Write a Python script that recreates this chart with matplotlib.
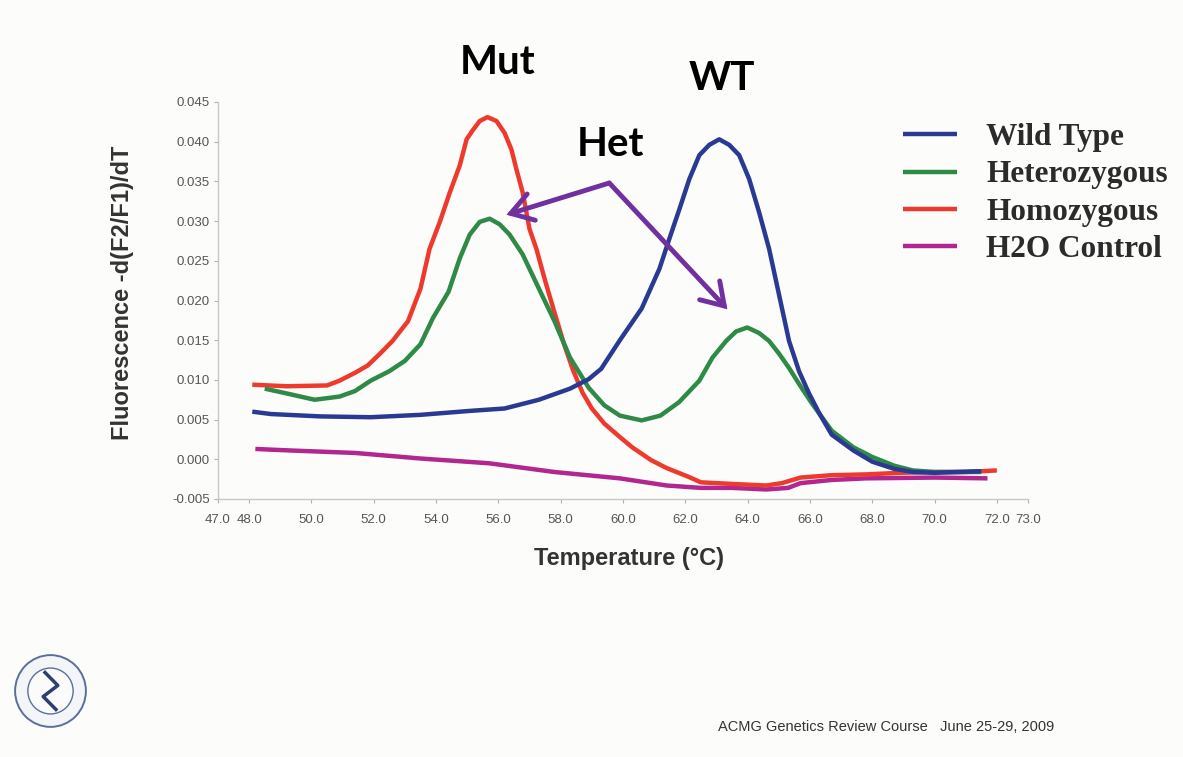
import matplotlib
matplotlib.use("Agg")
import matplotlib.pyplot as plt
from matplotlib.patches import Circle

#********data*****************************************
wt_temp = [48.1, 48.7, 50.3, 51.9, 53.5, 55.1, 56.2, 57.3, 58.3, 58.9, 59.3, 59.9,
           60.6, 61.17, 61.49, 61.81, 62.13, 62.45, 62.77, 63.09, 63.41, 63.73, 64.05,
           64.37, 64.69, 65.01, 65.33, 65.65, 65.97, 66.3, 66.7, 67.4, 68.0, 68.7, 69.3,
           70.0, 71.5]
wt_val = [0.0060, 0.0057, 0.0054, 0.0053, 0.0056, 0.0061, 0.0064, 0.0075, 0.0089, 0.0101,
          0.0114, 0.0150, 0.0190, 0.0240, 0.0278, 0.0315, 0.0353, 0.0383, 0.0396, 0.0403,
          0.0396, 0.0383, 0.0353, 0.0311, 0.0265, 0.0207, 0.0149, 0.0111, 0.0083, 0.0058,
          0.0031, 0.0011, -0.0003, -0.0012, -0.0016, -0.0017, -0.0015]

het_temp = [48.5, 49.2, 50.1, 50.9, 51.4, 51.9, 52.5, 53.0, 53.5, 53.9, 54.4, 54.76,
            55.08, 55.40, 55.72, 56.04, 56.36, 56.78, 57.3, 57.8, 58.3, 58.9, 59.4, 59.9,
            60.6, 61.2, 61.8, 62.45, 62.87, 63.31, 63.63, 63.99, 64.37, 64.69, 65.01,
            65.33, 65.65, 66.07, 66.7, 67.4, 68.0, 68.7, 69.3, 70.0, 71.5]
het_val = [0.0089, 0.0083, 0.0075, 0.0079, 0.0086, 0.0099, 0.0111, 0.0124, 0.0145, 0.0178,
           0.0211, 0.0253, 0.0283, 0.0299, 0.0303, 0.0296, 0.0283, 0.0258, 0.0215, 0.0174,
           0.0128, 0.0090, 0.0068, 0.0055, 0.0049, 0.0055, 0.0072, 0.0099, 0.0128, 0.0149,
           0.0161, 0.0166, 0.0159, 0.0149, 0.0133, 0.0115, 0.0095, 0.0070, 0.0036, 0.0015,
           0.0003, -0.0008, -0.0014, -0.0016, -0.0016]

homo_temp = [48.1, 49.2, 50.5, 50.9, 51.4, 51.8, 52.2, 52.6, 53.1, 53.5, 53.79, 54.12,
             54.44, 54.76, 54.98, 55.17, 55.40, 55.65, 55.94, 56.20, 56.42, 56.58, 56.78,
             57.00, 57.22, 57.5, 57.8, 58.1, 58.4, 58.7, 59.0, 59.4, 59.9, 60.3, 60.9,
             61.4, 62.1, 62.5, 63.5, 64.6, 65.1, 65.7, 66.7, 67.8, 68.9, 70.0, 71.0, 72.0]
homo_val = [0.0094, 0.0092, 0.0093, 0.0099, 0.0109, 0.0118, 0.0133, 0.0149, 0.0174, 0.0215,
            0.0265, 0.0299, 0.0336, 0.0370, 0.0403, 0.0414, 0.0426, 0.0431, 0.0426, 0.0411,
            0.0390, 0.0365, 0.0336, 0.0290, 0.0265, 0.0225, 0.0185, 0.0146, 0.0112, 0.0084,
            0.0064, 0.0045, 0.0028, 0.0015, -0.0001, -0.0011, -0.0022, -0.0029, -0.0031,
            -0.0033, -0.0030, -0.0023, -0.0020, -0.0019, -0.0017, -0.0016, -0.0016, -0.0014]

h2o_temp = [48.2, 49.4, 51.4, 53.5, 55.7, 57.8, 59.9, 61.4, 62.5, 63.5, 64.6, 65.3,
            65.7, 66.7, 67.8, 70.0, 71.7]
h2o_val = [0.0013, 0.0011, 0.0008, 0.0001, -0.0005, -0.0016, -0.0024, -0.0033, -0.0036,
           -0.0036, -0.0038, -0.0036, -0.0030, -0.0026, -0.0024, -0.0023, -0.0024]

series_names = ["Wild Type", "Heterozygous", "Homozygous", "H2O Control"]
x_ticks = [47, 48, 50, 52, 54, 56, 58, 60, 62, 64, 66, 68, 70, 72, 73]
y_ticks = [-0.005, 0.0, 0.005, 0.010, 0.015, 0.020, 0.025, 0.030, 0.035, 0.040, 0.045]

# annotation points (temperature, value)
het_hub = (59.56, 0.0348)
het_left_tip = (56.26, 0.0308)
het_right_tip = (63.35, 0.0189)

#********figure*********
W, H = 1183, 757
fig = plt.figure(figsize=(W / 100, H / 100), dpi=100, facecolor="#fcfcfa")

ax = fig.add_axes([218 / W, 1 - 499 / H, (1028 - 218) / W, (499 - 102) / H])
ax.set_facecolor("#fcfcfa")

blue = "#2a3a93"
green = "#2f8a47"
red = "#ee3a2c"
magenta = "#b2268f"
lw = 3.2

style = dict(lw=lw, solid_capstyle="butt", solid_joinstyle="round")
l_h2o, = ax.plot(h2o_temp, h2o_val, color=magenta, zorder=2, **style)
l_homo, = ax.plot(homo_temp, homo_val, color=red, zorder=3, **style)
l_het, = ax.plot(het_temp, het_val, color=green, zorder=4, **style)
l_wt, = ax.plot(wt_temp, wt_val, color=blue, zorder=5, **style)

ax.set_xlim(47, 73)
ax.set_ylim(-0.005, 0.045)
ax.set_xticks(x_ticks)
ax.set_xticklabels([f"{t:.1f}" for t in x_ticks])
ax.set_yticks(y_ticks)
ax.set_yticklabels([f"{v:.3f}" if v != 0 else "0.000" for v in y_ticks])

for s in ["top", "right"]:
    ax.spines[s].set_visible(False)
for s in ["left", "bottom"]:
    ax.spines[s].set_color("#c8c8c8")
    ax.spines[s].set_linewidth(1.0)

ax.tick_params(axis="both", direction="out", length=3, width=0.8, color="#b0b0b0",
               labelcolor="#555555")
ax.tick_params(axis="x", pad=8)
ax.tick_params(axis="y", pad=3)
for lab in ax.get_xticklabels() + ax.get_yticklabels():
    lab.set_fontfamily("Liberation Sans")
    lab.set_fontsize(9.5)

ax.set_xlabel("Temperature (\u00b0C)", fontfamily="Liberation Sans", fontweight="bold",
              fontsize=17, color="#333333")
ax.xaxis.set_label_coords((629 - 218) / (1028 - 218), -(547 - 499) / (499 - 102))
ax.set_ylabel("Fluorescence -d(F2/F1)/dT", fontfamily="Liberation Sans", fontweight="bold",
              fontsize=17, color="#333333")
ax.yaxis.set_label_coords(-(218 - 134) / (1028 - 218), (499 - 293) / (499 - 102))

# legend
leg = ax.legend([l_wt, l_het, l_homo, l_h2o], series_names, loc="upper left",
                bbox_to_anchor=(903 / W, 1 - 123 / H), bbox_transform=fig.transFigure,
                frameon=False, borderpad=0, borderaxespad=0, handlelength=1.72,
                handletextpad=0.95, labelspacing=0.27,
                prop={"family": "Liberation Serif", "weight": "bold", "size": 22.5})
for t in leg.get_texts():
    t.set_color("#2b2b2b")

# purple arrows
arrow_col = "#7030a0"
for tip in [het_left_tip, het_right_tip]:
    ax.annotate("", xy=tip, xytext=het_hub, xycoords="data", textcoords="data",
                annotation_clip=False, zorder=6,
                arrowprops=dict(arrowstyle="->,head_length=0.7,head_width=0.45",
                                color=arrow_col, lw=3.5, shrinkA=0, shrinkB=0,
                                mutation_scale=22, joinstyle="miter", capstyle="round"))

# overlay labels
big = {"family": "Lato", "weight": "bold", "size": 29, "color": "black"}
fig.text(498 / W, 1 - 62 / H, "Mut", ha="center", va="center", **big)
fig.text(722 / W, 1 - 78 / H, "WT", ha="center", va="center", **big)
fig.text(610 / W, 1 - 145 / H, "Het", ha="center", va="center", **big)

# footer
fig.text(718 / W, 1 - 727 / H, "ACMG Genetics Review Course   June 25-29, 2009",
         ha="left", va="center", fontfamily="Liberation Sans", fontsize=10.5,
         color="#333333")

# seal
lax = fig.add_axes([14 / W, 1 - 728 / H, 73 / W, 74 / H])
lax.set_xlim(-1, 1)
lax.set_ylim(-1, 1)
lax.axis("off")
lax.add_patch(Circle((0, 0), 0.97, facecolor="#f4f5f8", edgecolor="#5b6f9c", lw=1.4))
lax.add_patch(Circle((0, 0), 0.62, facecolor="#fbfbfb", edgecolor="#5b6f9c", lw=1.0))
lax.plot([-0.15, 0.2, -0.2, 0.15], [0.5, 0.15, -0.15, -0.5], color="#2c3f73", lw=2.5)

fig.savefig("out.png", dpi=100, facecolor=fig.get_facecolor())
